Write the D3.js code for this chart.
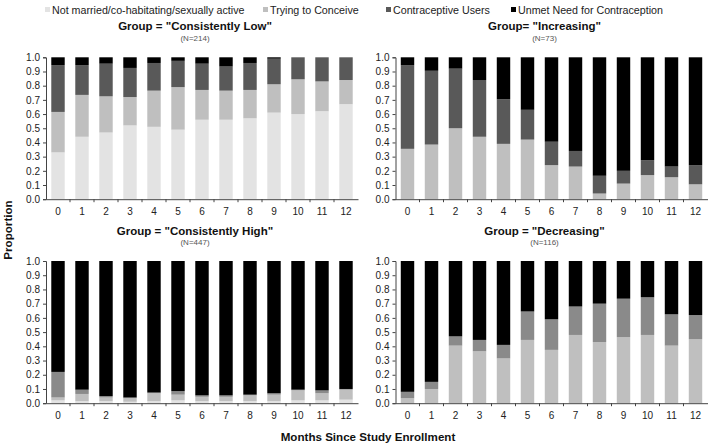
<!DOCTYPE html>
<html><head><meta charset="utf-8">
<script src="https://cdn.jsdelivr.net/npm/d3@7"></script>
<style>body{margin:0;background:#fff}svg{display:block}text{font-family:"Liberation Sans",Arial,sans-serif}</style>
</head><body><svg id="c" width="709" height="447"></svg>
<script>
const months = [0,1,2,3,4,5,6,7,8,9,10,11,12];
const seriesNames = ["Not married/co-habitating/sexually active","Trying to Conceive","Contraceptive Users","Unmet Need for Contraception"];
const yTicks = [0,0.1,0.2,0.3,0.4,0.5,0.6,0.7,0.8,0.9,1.0];
const groupTitles = ['Group = "Consistently Low"','Group= "Increasing"','Group = "Consistently High"','Group = "Decreasing"'];
const groupN = ["(N=214)","(N=73)","(N=447)","(N=116)"];

// Consistently Low
const lowNotMarried = [0.33,0.44,0.47,0.52,0.51,0.49,0.56,0.56,0.57,0.61,0.60,0.62,0.67];
const lowTrying     = [0.285,0.295,0.255,0.20,0.255,0.30,0.21,0.205,0.20,0.20,0.245,0.21,0.17];
const lowContra     = [0.33,0.21,0.23,0.205,0.195,0.185,0.185,0.17,0.19,0.18,0.155,0.17,0.16];
const lowUnmet      = [0.055,0.055,0.045,0.075,0.04,0.025,0.045,0.065,0.04,0.01,0,0,0];
// Increasing
const incNotMarried = [0,0,0,0,0,0,0,0,0,0,0,0,0];
const incTrying     = [0.355,0.385,0.50,0.44,0.39,0.42,0.24,0.23,0.04,0.11,0.17,0.155,0.105];
const incContra     = [0.59,0.52,0.42,0.40,0.315,0.21,0.165,0.11,0.125,0.09,0.105,0.075,0.135];
const incUnmet      = [0.055,0.095,0.08,0.16,0.295,0.37,0.595,0.66,0.835,0.80,0.725,0.77,0.76];
// Consistently High
const highNotMarried = [0.02,0.015,0.015,0.01,0.015,0.02,0.015,0.015,0.015,0.015,0.02,0.02,0.025];
const highTrying     = [0.02,0.05,0.025,0.025,0.055,0.04,0.03,0.03,0.04,0.045,0.07,0.05,0.07];
const highContra     = [0.18,0.03,0.01,0.005,0.005,0.025,0.01,0.01,0.005,0.01,0.005,0.02,0.005];
const highUnmet      = [0.78,0.905,0.95,0.96,0.925,0.915,0.945,0.945,0.94,0.93,0.905,0.91,0.90];
// Decreasing
const decNotMarried = [0,0,0,0,0,0,0,0,0,0,0,0,0];
const decTrying     = [0.035,0.10,0.405,0.365,0.315,0.445,0.375,0.48,0.43,0.465,0.48,0.405,0.45];
const decContra     = [0.045,0.05,0.065,0.08,0.095,0.20,0.215,0.20,0.27,0.27,0.265,0.22,0.17];
const decUnmet      = [0.92,0.85,0.53,0.555,0.59,0.355,0.41,0.32,0.30,0.265,0.255,0.375,0.38];

const groupSeries = [
  [lowNotMarried, lowTrying, lowContra, lowUnmet],
  [incNotMarried, incTrying, incContra, incUnmet],
  [highNotMarried, highTrying, highContra, highUnmet],
  [decNotMarried, decTrying, decContra, decUnmet]
];

const baseColors = ["#e3e3e3","#bfbfbf","#595959","#000000"];
const panelColors = [
  baseColors,
  baseColors,
  ["#e3e3e3","#bfbfbf","#8a8a8a","#000000"],
  ["#e3e3e3","#bfbfbf","#8a8a8a","#000000"]
];
const panels = [
  {x0:46, x1:358, yTop:57.3, yBot:199.2, titleY:29.5, nY:40.5},
  {x0:395.5, x1:707.5, yTop:57.3, yBot:199.2, titleY:29.5, nY:40.5},
  {x0:46, x1:358, yTop:261, yBot:403.2, titleY:234.5, nY:245},
  {x0:395.5, x1:707.5, yTop:261, yBot:403.2, titleY:234.5, nY:245}
];

const svg = d3.select("#c");
const axisColor = "#444";

// Legend
const legendX = [45, 263, 386, 511];
const lg = svg.append("g");
seriesNames.forEach((s,i)=>{
  lg.append("rect").attr("x",legendX[i]).attr("y",7).attr("width",5).attr("height",5).attr("fill",baseColors[i]);
  lg.append("text").attr("x",legendX[i]+7).attr("y",13.5).attr("font-size",10.7).attr("fill","#222").text(s);
});

panels.forEach((p,gi)=>{
  const g = svg.append("g");
  const data = months.map((m,i)=>{
    const o = {month:m};
    seriesNames.forEach((s,k)=>{ o[s] = groupSeries[gi][k][i]; });
    return o;
  });
  const stack = d3.stack().keys(seriesNames)(data);
  const x = d3.scaleBand().domain(months).range([p.x0,p.x1]).paddingInner(0.44).paddingOuter(0.22);
  const y = d3.scaleLinear().domain([0,1]).range([p.yBot,p.yTop]);

  stack.forEach((layer,k)=>{
    g.append("g").selectAll("rect").data(layer).join("rect")
      .attr("x",d=>x(d.data.month))
      .attr("width",x.bandwidth())
      .attr("y",d=>y(d[1]))
      .attr("height",d=>Math.max(0,y(d[0])-y(d[1])))
      .attr("fill",panelColors[gi][k]);
  });

  // y axis
  const ya = g.append("g").attr("transform",`translate(${p.x0},0)`)
    .call(d3.axisLeft(y).tickValues(yTicks).tickFormat(d3.format(".1f")).tickSize(3).tickPadding(3));
  ya.select(".domain").attr("stroke",axisColor);
  ya.selectAll(".tick line").attr("stroke",axisColor);
  ya.selectAll("text").attr("font-size",10).attr("fill","#222").attr("font-family","'Liberation Sans',Arial,sans-serif");

  // x axis
  const xa = g.append("g").attr("transform",`translate(0,${p.yBot})`)
    .call(d3.axisBottom(x).tickSize(0).tickPadding(9));
  xa.select(".domain").attr("stroke",axisColor);
  xa.selectAll("text").attr("font-size",10).attr("fill","#222").attr("font-family","'Liberation Sans',Arial,sans-serif");
  const gap = x.step()*x.paddingInner();
  const bounds = months.map(m=>x(m)+x.bandwidth()+gap/2);
  g.append("g").selectAll("line").data(bounds.slice(0,-1)).join("line")
    .attr("x1",d=>d).attr("x2",d=>d).attr("y1",p.yBot).attr("y2",p.yBot+3).attr("stroke",axisColor);

  const cx = (p.x0+p.x1)/2 - 7;
  g.append("text").attr("x",cx).attr("y",p.titleY).attr("text-anchor","middle")
    .attr("font-size",11.5).attr("font-weight","bold").attr("fill","#111").text(groupTitles[gi]);
  g.append("text").attr("x",cx).attr("y",p.nY).attr("text-anchor","middle")
    .attr("font-size",8).attr("fill","#555").text(groupN[gi]);
});

svg.append("text").attr("x",368).attr("y",441).attr("text-anchor","middle")
  .attr("font-size",11.6).attr("font-weight","bold").attr("fill","#111").text("Months Since Study Enrollment");
svg.append("text").attr("transform","translate(12,230) rotate(-90)").attr("text-anchor","middle")
  .attr("font-size",11.6).attr("font-weight","bold").attr("fill","#111").text("Proportion");
</script></body></html>
